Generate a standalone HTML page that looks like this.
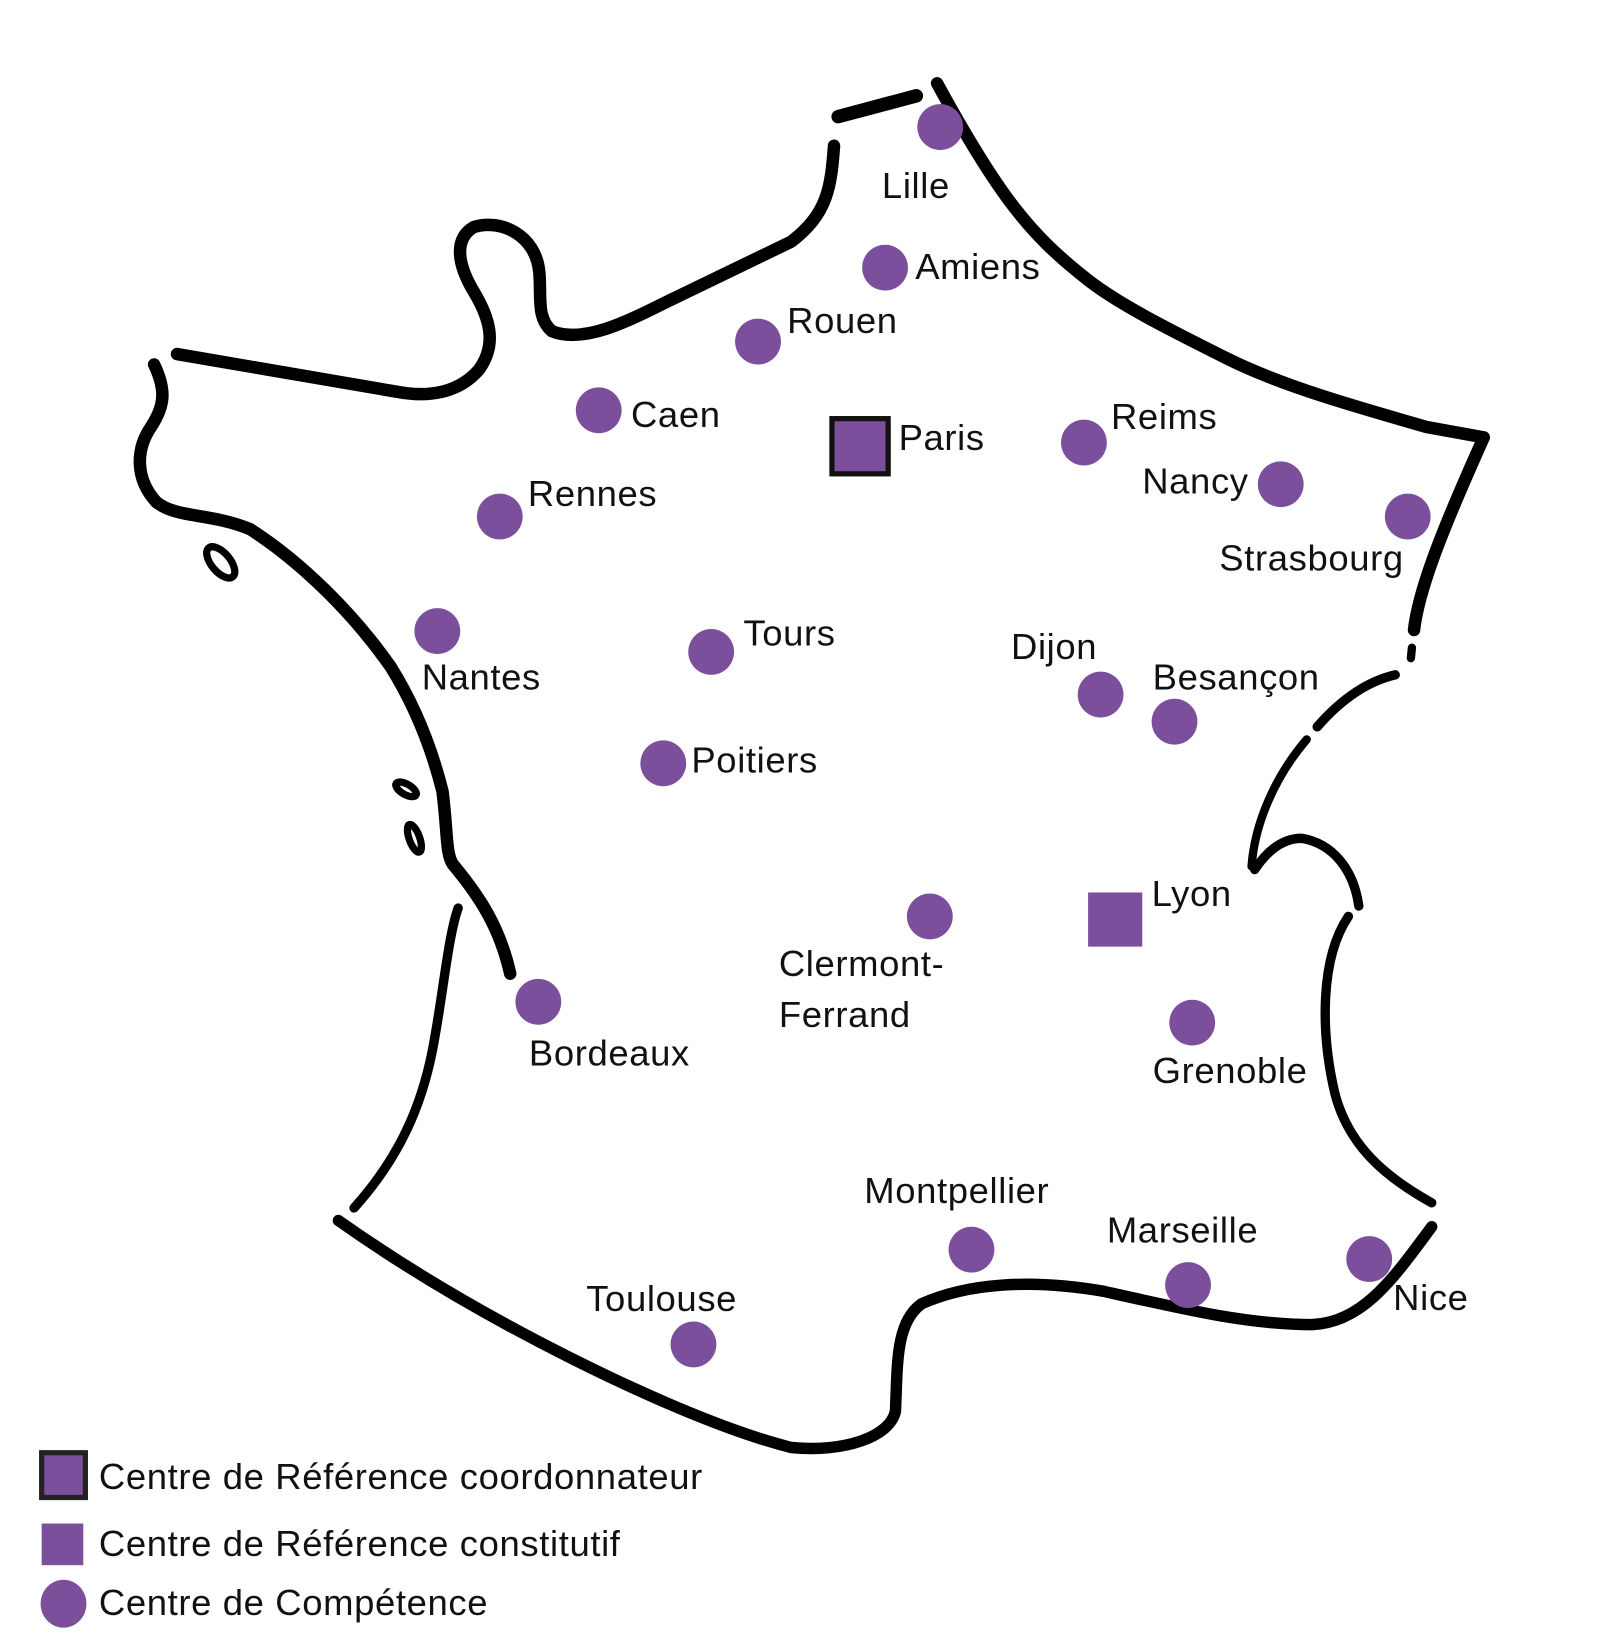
<!DOCTYPE html>
<html><head><meta charset="utf-8"><style>
html,body{margin:0;padding:0;background:#fff;}
svg{display:block;}
text{font-family:"Liberation Sans",sans-serif;font-size:35px;letter-spacing:0.6px;fill:#111;}
</style></head><body>
<svg width="1616" height="1636" viewBox="0 0 1552 1571" preserveAspectRatio="none">
<g fill="none" stroke="#000" stroke-linecap="round" stroke-linejoin="round">
<path d="M805,112 L880,92" stroke-width="13"/>
<path d="M801,140 C798,180 795,205 760,232 L640,290 C600,310 560,330 530,318 C515,305 520,285 518,262 C515,225 480,210 455,218 C435,230 440,255 455,280 C470,305 478,330 460,355 C440,378 410,382 380,376 L170,340" stroke-width="12"/>
<path d="M148,350 C160,375 158,390 145,410 C130,432 130,460 150,482 C170,498 200,492 240,508 C290,540 340,590 375,640 C400,680 415,720 425,760 C430,800 428,820 435,830 C460,860 480,890 490,935" stroke-width="12"/>
<path d="M440,872 C430,900 425,960 415,1010 C405,1060 385,1110 340,1160" stroke-width="9"/>
<path d="M325,1172 C400,1225 480,1270 550,1305 C620,1340 700,1375 760,1390 C810,1395 855,1380 860,1355 C862,1310 860,1270 885,1252 C930,1232 990,1228 1060,1240 C1140,1258 1200,1272 1260,1272 C1310,1270 1340,1225 1375,1178" stroke-width="11"/>
<path d="M1375,1155 C1330,1130 1295,1100 1282,1050 C1268,990 1268,920 1295,880" stroke-width="9"/>
<path d="M1305,870 C1300,835 1280,810 1250,805 C1230,805 1215,820 1205,835" stroke-width="9"/>
<path d="M1202,832 C1205,790 1225,745 1255,710" stroke-width="8"/>
<path d="M1265,698 C1285,675 1310,655 1340,648" stroke-width="9"/>
<path d="M1356,622 L1355,632" stroke-width="8"/>
<path d="M1358,605 C1362,570 1380,520 1425,420 L1370,410 C1300,390 1230,370 1180,345 C1120,315 1070,290 1040,265 C990,225 960,190 900,80" stroke-width="12"/>
<ellipse cx="212" cy="540" rx="9" ry="18" transform="rotate(-40 212 540)" stroke-width="7"/>
<ellipse cx="390" cy="758" rx="5" ry="11" transform="rotate(-60 390 758)" stroke-width="7"/>
<ellipse cx="398" cy="805" rx="5" ry="14" transform="rotate(-20 398 805)" stroke-width="7"/>
</g>
<g fill="#7b4f9b">
<circle cx="903" cy="122" r="22"/><circle cx="850" cy="257" r="22"/><circle cx="728" cy="328" r="22"/>
<circle cx="575" cy="394" r="22"/><circle cx="1041" cy="425" r="22"/><circle cx="1230" cy="465" r="22"/>
<circle cx="1352" cy="496" r="22"/><circle cx="480" cy="496" r="22"/><circle cx="420" cy="606" r="22"/>
<circle cx="683" cy="626" r="22"/><circle cx="1057" cy="667" r="22"/><circle cx="1128" cy="693" r="22"/>
<circle cx="637" cy="733" r="22"/><circle cx="893" cy="880" r="22"/><circle cx="517" cy="962" r="22"/>
<circle cx="1145" cy="982" r="22"/><circle cx="933" cy="1200" r="22"/><circle cx="1141" cy="1234" r="22"/>
<circle cx="1315" cy="1209" r="22"/><circle cx="666" cy="1291" r="22"/>
<rect x="799" y="402" width="54" height="53" stroke="#111" stroke-width="5"/>
<rect x="1045" y="857" width="52" height="52"/>
<rect x="40" y="1395" width="42" height="43" stroke="#222" stroke-width="5"/>
<rect x="40" y="1463" width="40" height="40"/>
<ellipse cx="61" cy="1540" rx="22" ry="23"/>
</g>
<text x="847" y="190">Lille</text>
<text x="879" y="268">Amiens</text>
<text x="756" y="320">Rouen</text>
<text x="606" y="410">Caen</text>
<text x="863" y="432">Paris</text>
<text x="1067" y="412">Reims</text>
<text x="1097" y="474">Nancy</text>
<text x="1171" y="548">Strasbourg</text>
<text x="507" y="486">Rennes</text>
<text x="405" y="662">Nantes</text>
<text x="714" y="620">Tours</text>
<text x="971" y="633">Dijon</text>
<text x="1107" y="662">Besançon</text>
<text x="664" y="742">Poitiers</text>
<text x="1106" y="870">Lyon</text>
<text x="748" y="937">Clermont-</text>
<text x="748" y="986">Ferrand</text>
<text x="508" y="1023">Bordeaux</text>
<text x="1107" y="1040">Grenoble</text>
<text x="830" y="1155">Montpellier</text>
<text x="1063" y="1193">Marseille</text>
<text x="1338" y="1258">Nice</text>
<text x="563" y="1259">Toulouse</text>
<text x="95" y="1430">Centre de Référence coordonnateur</text>
<text x="95" y="1494">Centre de Référence constitutif</text>
<text x="95" y="1551">Centre de Compétence</text>
</svg>
</body></html>
